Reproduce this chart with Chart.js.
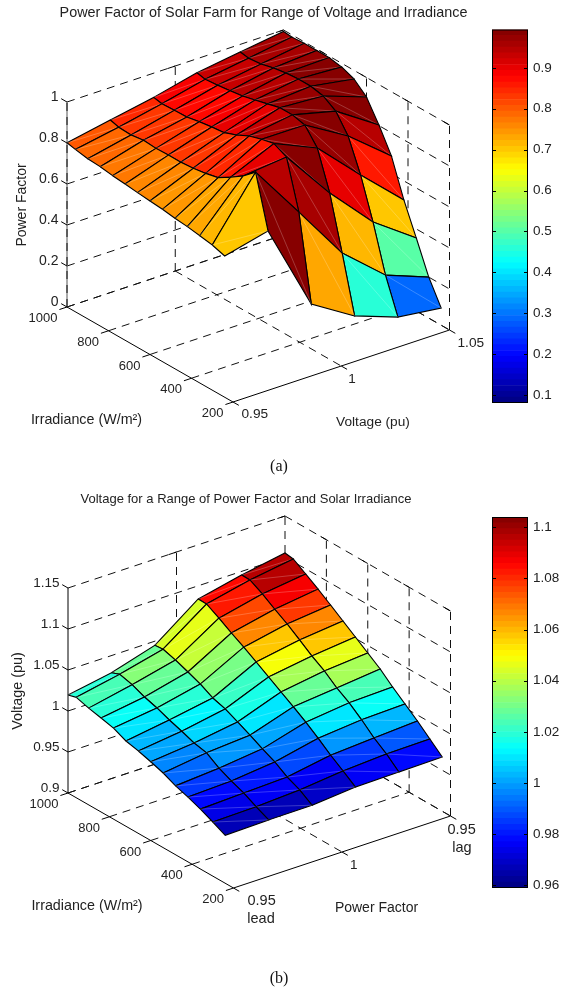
<!DOCTYPE html>
<html><head><meta charset="utf-8">
<script src="https://cdn.jsdelivr.net/npm/chart.js@4"></script>
<style>
html,body{margin:0;padding:0;background:#fff;width:563px;height:992px;overflow:hidden}
canvas{position:absolute;display:block}
.cap{position:absolute;font:16px "Liberation Serif",serif;color:#111;width:40px;text-align:center}
</style></head><body>
<canvas id="surfA" width="563" height="480" style="left:0;top:0"></canvas>
<canvas id="barA" width="83" height="480" style="left:480px;top:0"></canvas>
<canvas id="surfB" width="563" height="512" style="left:0;top:480px"></canvas>
<canvas id="barB" width="83" height="512" style="left:480px;top:480px"></canvas>
<div class="cap" style="left:259px;top:457px">(a)</div>
<div class="cap" style="left:259px;top:969px">(b)</div>
<script>
// ---------- data ----------
const irradiance = [1000,960,900,840,780,720,660,600,540,480,420,360,300,240];
const voltageGrid = [0.95,0.97,0.99,1.01,1.03,1.05];
const pfGrid = [-0.05,-0.03,-0.01,0.01,0.03,0.05];

// (a) power factor, one array per voltage, ordered as irradiance
const pfAtV095 = [.801,.792,.781,.777,.768,.762,.755,.749,.743,.734,.728,.7185,.708,.689];
const pfAtV097 = [.842,.830,.827,.836,.831,.833,.833,.838,.848,.862,.899,.940,.993,.741];
const pfAtV099 = [.882,.874,.877,.879,.891,.900,.907,.930,.960,.979,.993,.962,.728,.314];
const pfAtV101 = [.932,.923,.929,.937,.946,.961,.977,.993,.993,.978,.901,.716,.458,.186];
const pfAtV103 = [.963,.956,.962,.978,.988,.993,.993,.980,.941,.854,.699,.504,.280,.110];
const pfAtV105 = [.993,.989,.993,.993,.993,.982,.958,.905,.803,.687,.507,.356,.200,.084];

// (b) voltage, one array per power factor, ordered as irradiance
const vAtLead095 = [1.0195,1.0225,1.018,1.0146,1.011,1.004,1.0005,.996,.991,.984,.979,.973,.966,.9585];
const vAtLead097 = [1.029,1.033,1.029,1.0227,1.018,1.012,1.007,1.0013,.998,.988,.981,.975,.967,.9596];
const vAtLead099 = [1.045,1.046,1.0415,1.0356,1.0296,1.0213,1.0166,1.0094,1.002,.994,.9867,.977,.970,.960];
const vAtLag099  = [1.084,1.0836,1.075,1.0656,1.057,1.0476,1.038,1.0284,1.019,1.009,.998,.986,.9755,.9646];
const vAtLag097  = [1.0956,1.0953,1.087,1.077,1.0677,1.057,1.046,1.0365,1.0244,1.015,1.003,.9895,.9787,.9654];
const vAtLag095  = [1.1049,1.1034,1.0938,1.084,1.0733,1.0625,1.0517,1.0409,1.03,1.0168,1.0048,.9927,.9794,.9662];

const irrTicks = [1000,800,600,400,200];
const voltTicks = [0.95,1,1.05];
const pfOffsetTicks = [-0.05,0,0.05];
const pfZTicks = [0,0.2,0.4,0.6,0.8,1];
const voltZTicks = [0.9,0.95,1,1.05,1.1,1.15];
const barTicksA = [0.1,0.2,0.3,0.4,0.5,0.6,0.7,0.8,0.9];
const barTicksB = [0.96,0.98,1,1.02,1.04,1.06,1.08,1.1];

// ---------- colour ----------
const clamp01 = v => Math.max(0, Math.min(1, v));
function jet(k){ // 64-level jet
  const x = (k + 0.5) / 64;
  const r = clamp01(Math.min(4*x-1.5, -4*x+4.5));
  const g = clamp01(Math.min(4*x-0.5, -4*x+3.5));
  const b = clamp01(Math.min(4*x+0.5, -4*x+2.5));
  return `rgb(${Math.round(r*255)},${Math.round(g*255)},${Math.round(b*255)})`;
}
const levelOf = (v,lo,hi) => Math.max(0, Math.min(63, Math.floor((v-lo)/(hi-lo)*64)));

const INK = '#222';
const SANS = '"Liberation Sans",Arial,sans-serif';

function surfaceChart(id, cfg){
  const P = (irr, h, z) => ({
    x: cfg.ox + (1000-irr)/800*cfg.ix + (h-cfg.h0)/(cfg.h1-cfg.h0)*cfg.hx,
    y: cfg.oy + (1000-irr)/800*cfg.iy + (h-cfg.h0)/(cfg.h1-cfg.h0)*cfg.hy - (z-cfg.z0)/(cfg.z1-cfg.z0)*cfg.zh
  });
  const sets = [];
  const line = (pts, opt) => sets.push(Object.assign({data:pts, showLine:true, pointRadius:0, borderColor:'#000', borderWidth:1, fill:false, tension:0}, opt||{}));
  const dash = {borderDash:[8,6], borderColor:'#111'};
  const zb = cfg.z0, zt = cfg.z1, h0=cfg.h0, h1=cfg.h1;
  // floor grid
  irrTicks.forEach(r=>{ if(r!==200) line([P(r,h0,zb),P(r,h1,zb)],dash); });
  cfg.hTicks.forEach(h=>{ if(h!==h0) line([P(1000,h,zb),P(200,h,zb)],dash); });
  // back walls
  cfg.zTicks.forEach(z=>{
    line([P(1000,h0,z),P(1000,h1,z)],dash);
    line([P(1000,h1,z),P(200,h1,z)],dash);
  });
  cfg.hTicks.forEach(h=>{ if(h!==h0) line([P(1000,h,zb),P(1000,h,zt)],dash); });
  irrTicks.forEach(r=>{ if(r!==1000) line([P(r,h1,zb),P(r,h1,zt)],dash); });
  // solid axes
  line([P(1000,h0,zb),P(1000,h0,zt)],{borderColor:cfg.zAxisColor});
  if(cfg.zAxisDash) line([P(1000,h0,zb),P(1000,h0,zt)],dash);
  line([P(1000,h0,zb),P(200,h0,zb)]);
  line([P(200,h0,zb),P(200,h1,zb)]);
  // tick marks
  const dh=(h1-h0)*0.035;
  irrTicks.forEach(r=>line([P(r,h0,zb),P(r,h0-dh,zb)]));
  cfg.hTicks.forEach(h=>line([P(200,h,zb),P(200-28,h,zb)]));
  cfg.zTicks.forEach(z=>line([P(1000,h0,z),P(1000+28,h0,z)]));
  // small ticks at the top of the wall verticals
  cfg.hTicks.forEach(h=>{ if(h!==h0) line([P(1000,h,zt),P(1000,h-dh,zt)]); });
  irrTicks.forEach(r=>{ if(r!==1000) line([P(r,h1,zt),P(r+28,h1,zt)]); });
  // surface, back to front
  const cols = cfg.cols;
  for(let j=cols.length-2;j>=0;j--){
    for(let i=0;i<irradiance.length-1;i++){
      const a=P(irradiance[i],cfg.grid[j],cols[j][i]), b=P(irradiance[i],cfg.grid[j+1],cols[j+1][i]),
            c=P(irradiance[i+1],cfg.grid[j+1],cols[j+1][i+1]), d=P(irradiance[i+1],cfg.grid[j],cols[j][i+1]);
      line([a,b,c,d,a],{backgroundColor:jet(levelOf(cols[j][i],cfg.cmin,cfg.cmax)),fill:'shape',borderWidth:1.1,borderColor:'#000'});
      line([a,c],{borderColor:'rgba(255,255,255,0.28)',borderWidth:0.8});
    }
  }
  const total = sets.length;
  sets.forEach((s,k)=>{s.order = total-k;});

  const textPlugin = {id:'labels', afterDraw(chart){
    const ctx = chart.ctx, sx=chart.scales.x, sy=chart.scales.y;
    const put=(t,x,y,align,size,rot)=>{
      ctx.save();
      ctx.font=`${size||13}px ${SANS}`; ctx.fillStyle=INK; ctx.textAlign=align||'center'; ctx.textBaseline='middle';
      ctx.translate(sx.getPixelForValue(x),sy.getPixelForValue(y));
      if(rot) ctx.rotate(rot);
      ctx.fillText(t,0,0); ctx.restore();
    };
    cfg.zTicks.forEach((z,k)=>{const p=P(1000,h0,z); put(cfg.zLabels[k],p.x-8.5,p.y-5,'right',cfg.zSize);});
    irrTicks.forEach(r=>{const p=P(r,h0,zb); put(String(r),p.x-9.5,p.y+11.5,'right',13);});
    cfg.hTicks.forEach((h,k)=>{const p=P(200,h,zb); const o=cfg.hOff[k]; put(cfg.hLabels[k],p.x+o[0],p.y+o[1],'left',cfg.hSize[k]);});
    (cfg.extra||[]).forEach(e=>put(e.t,e.x,e.y,e.a,e.s,e.r));
  }};

  return new Chart(document.getElementById(id),{
    type:'scatter',
    data:{datasets:sets},
    options:{responsive:false,animation:false,events:[],layout:{padding:0},
      plugins:{legend:{display:false},tooltip:{enabled:false},title:{display:false}},
      scales:{
        x:{type:'linear',display:false,min:0,max:cfg.w},
        y:{type:'linear',display:false,reverse:true,min:cfg.top,max:cfg.top+cfg.height}
      }},
    plugins:[textPlugin]
  });
}

function colorBar(id, ticks, cmin, cmax, top, bottom, fmt){
  const sets=[];
  for(let k=0;k<64;k++){
    const lo=cmin+(cmax-cmin)*k/64, hi=cmin+(cmax-cmin)*(k+1)/64;
    sets.push({data:[[lo,hi]],backgroundColor:jet(k),borderWidth:0,barPercentage:1,categoryPercentage:1,grouped:false});
  }
  const frame={id:'frame',afterDraw(chart){
    const {ctx,chartArea:a,scales:{y}}=chart;
    ctx.save();ctx.strokeStyle='#000';ctx.lineWidth=1;
    ctx.strokeRect(a.left+.5,a.top+.5,a.right-a.left-1,a.bottom-a.top-1);
    ticks.forEach(t=>{const p=Math.round(y.getPixelForValue(t))+.5;
      ctx.beginPath();ctx.moveTo(a.left,p);ctx.lineTo(a.left+4,p);ctx.moveTo(a.right,p);ctx.lineTo(a.right-4,p);ctx.stroke();});
    ctx.restore();
  }};
  const c=document.getElementById(id);
  return new Chart(c,{
    type:'bar',
    data:{labels:['c'],datasets:sets},
    options:{responsive:false,animation:false,events:[],
      layout:{padding:{left:12,right:0,top:top,bottom:c.height-bottom}},
      plugins:{legend:{display:false},tooltip:{enabled:false}},
      scales:{
        x:{display:false,stacked:false},
        y:{position:'right',min:cmin,max:cmax,
           afterBuildTicks(s){s.ticks=ticks.map(v=>({value:v}));},
           afterFit(s){s.width=35;},
           border:{display:false},
           grid:{display:false,drawTicks:false},
           ticks:{autoSkip:false,padding:5,color:INK,font:{family:SANS,size:13.5},callback:v=>fmt(v),maxRotation:0}}
      }},
    plugins:[frame]
  });
}

surfaceChart('surfA',{
  w:563,height:480,top:0,
  ox:67,oy:307,ix:166,iy:95,hx:216.5,hy:-72,zh:205,
  h0:0.95,h1:1.05,z0:0,z1:1,
  grid:voltageGrid,
  cols:[pfAtV095,pfAtV097,pfAtV099,pfAtV101,pfAtV103,pfAtV105],
  cmin:0.08,cmax:0.994,
  zTicks:pfZTicks,zLabels:['0','0.2','0.4','0.6','0.8','1'],zSize:14,zAxisColor:'#555',zAxisDash:true,
  hTicks:voltTicks,hLabels:['0.95','1','1.05'],hOff:[[8.5,12],[7,13],[8,13]],hSize:[13.7,13.5,13.7],
  extra:[
    {t:'Power Factor of Solar Farm for Range of Voltage and Irradiance',x:263.5,y:13,s:14.4},
    {t:'Irradiance (W/m²)',x:86.5,y:420,s:14.3},
    {t:'Voltage (pu)',x:373,y:422,s:13.7},
    {t:'Power Factor',x:22,y:205,s:14,r:-Math.PI/2}
  ]
});
colorBar('barA',barTicksA,0.08,0.994,29.5,403,v=>String(v));

surfaceChart('surfB',{
  w:563,height:512,top:480,
  ox:68,oy:793,ix:165.5,iy:95,hx:217,hy:-72,zh:205,
  h0:-0.05,h1:0.05,z0:0.9,z1:1.15,
  grid:pfGrid,
  cols:[vAtLead095,vAtLead097,vAtLead099,vAtLag099,vAtLag097,vAtLag095],
  cmin:0.959,cmax:1.104,
  zTicks:voltZTicks,zLabels:['0.9','0.95','1','1.05','1.1','1.15'],zSize:13.5,zAxisColor:'#000',zAxisDash:false,
  hTicks:pfOffsetTicks,hLabels:['0.95','1','0.95'],hOff:[[14,13],[8,13],[-3,14]],hSize:[14.5,13.5,14.5],
  extra:[
    {t:'Voltage for a Range of Power Factor and Solar Irradiance',x:246,y:499,s:13},
    {t:'Irradiance (W/m²)',x:87,y:906,s:14.3},
    {t:'Power Factor',x:376.5,y:908,s:14},
    {t:'Voltage (pu)',x:18,y:691,s:14.4,r:-Math.PI/2},
    {t:'lead',x:261,y:919,s:14.5},
    {t:'lag',x:462,y:848,s:14.5}
  ]
});
colorBar('barB',barTicksB,0.959,1.104,37,408,v=>String(v));
</script>
</body></html>
